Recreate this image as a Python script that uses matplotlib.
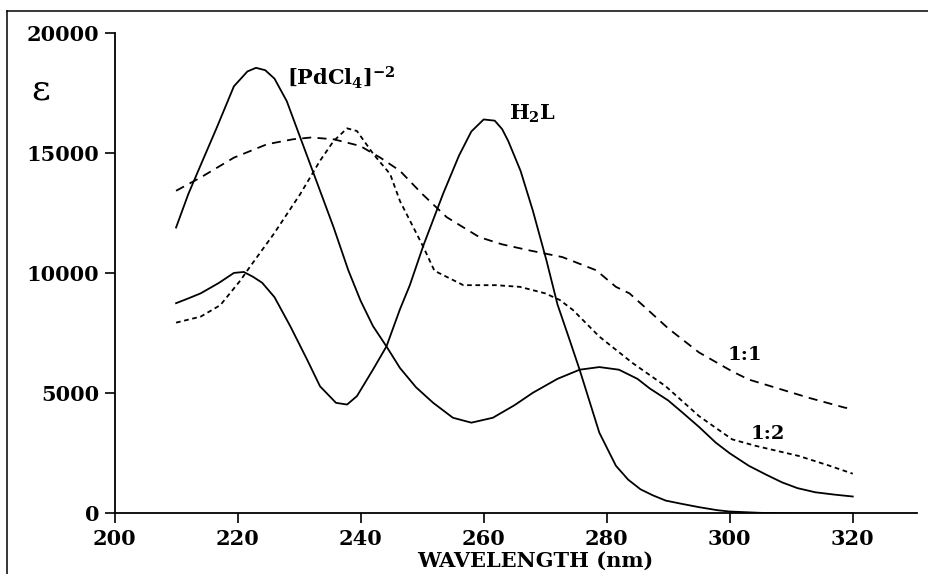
import matplotlib
matplotlib.use('Agg')
import matplotlib.pyplot as plt
from matplotlib.lines import Line2D

plt.rcParams['font.family'] = 'DejaVu Serif'
plt.rcParams['font.weight'] = 'bold'
plt.rcParams['mathtext.fontset'] = 'dejavuserif'
plt.rcParams['mathtext.default'] = 'bf'

# [PdCl4]-2 (solid)
pd_x = [210, 212, 214, 216.6, 219.4, 221.6, 223, 224.5, 226, 228, 230.2, 232.4, 235.6, 238, 240,
        242, 244.2, 246.4, 249, 251.8, 255, 258, 261.5, 265, 268, 272, 275.6, 278.8, 282, 285,
        287, 290, 292.3, 295, 297.7, 300, 303.1, 306, 308.5, 311, 313.9, 317, 320]
pd_y = [11900, 13300, 14500, 16050, 17780, 18400, 18550, 18450, 18100, 17160, 15640, 14125, 11915, 10120, 8850,
        7800, 6950, 6050, 5250, 4600, 3980, 3775, 3980, 4500, 5020, 5600, 5980, 6090, 5980, 5600,
        5200, 4700, 4200, 3600, 2950, 2500, 1980, 1600, 1290, 1050, 877, 780, 700]

# H2L (solid)
h2l_x = [210, 212, 214, 217, 219.4, 221, 222.5, 224, 226, 228.6, 231.3, 233.4, 236, 237.8, 239.4,
         242, 244.2, 246.4, 248, 250.2, 253.4, 256, 258, 260, 261.8, 263, 264, 266, 268, 270.2,
         272, 274, 275.6, 278.8, 281.5, 283.5, 285.5, 287.5, 289.6, 292.3, 295, 298, 300, 305, 310, 320]
h2l_y = [8750, 8950, 9160, 9600, 10010, 10050, 9850, 9600, 9000, 7775, 6400, 5290, 4600, 4530, 4880,
         5980, 6950, 8500, 9500, 11150, 13300, 14900, 15900, 16400, 16350, 16000, 15500, 14260, 12600, 10540,
         8700, 7200, 5980, 3360, 1980, 1400, 1000, 750, 530, 390, 257, 130, 75, 20, 0, 0]

# 1:1 (long dashes)
r11_x = [210, 214, 219.4, 224.8, 229, 232, 235.6, 239.9, 243.2, 246.4, 250, 254, 259.3, 263,
         267.4, 272.8, 278.3, 281.5, 283.7, 286.4, 290, 295, 300.4, 303.1, 308.5, 313, 318.7, 320]
r11_y = [13430, 13985, 14810, 15370, 15575, 15650, 15575, 15300, 14810, 14260, 13300, 12330, 11500, 11200,
         10950, 10670, 10120, 9430, 9160, 8540, 7700, 6700, 5910, 5570, 5150, 4800, 4400, 4350]

# 1:2 (short dashes)
r12_x = [210, 214, 217.2, 220.5, 221.8, 225.9, 230.2, 233.4, 235.6, 237.8, 239.4, 242.1, 244.8, 246.4,
         250.2, 252, 254, 256.7, 262, 265.9, 270, 272.4, 274.5, 278.8, 284.2, 289.6, 295, 300.4,
         304.2, 311.2, 316, 320]
r12_y = [7940, 8190, 8670, 9710, 10190, 11640, 13300, 14680, 15500, 16030, 15920, 14950, 14125, 13000,
         11090, 10100, 9845, 9500, 9500, 9430, 9160, 8880, 8470, 7360, 6260, 5290, 4050, 3080,
         2810, 2390, 2000, 1650]

xticks = [200, 220, 240, 260, 280, 300, 320]
yticks = [0, 5000, 10000, 15000, 20000]

fig = plt.figure(figsize=(9.29, 5.74), dpi=100)
ax = fig.add_axes([0.1233, 0.1057, 0.8635, 0.8368])

ax.plot(pd_x, pd_y, color='black', lw=1.3)
ax.plot(h2l_x, h2l_y, color='black', lw=1.3)
ax.plot(r11_x, r11_y, color='black', lw=1.3, linestyle=(0, (5, 3.5)))
ax.plot(r12_x, r12_y, color='black', lw=1.3, linestyle=(0, (2.6, 2)))

ax.set_xlim(200, 330.4)
ax.set_ylim(0, 20000)
ax.set_xticks(xticks)
ax.set_yticks(yticks)
ax.tick_params(direction='out', length=7, width=1.2, labelsize=15, pad=4)
for s in ['top', 'right']:
    ax.spines[s].set_visible(False)
for s in ['left', 'bottom']:
    ax.spines[s].set_linewidth(1.3)

ax.text(228, 18150, r'$[PdCl_4]^{-2}$', fontsize=15, ha='left', va='center')
ax.text(264.2, 16620, r'$H_2L$', fontsize=15, ha='left', va='center')
ax.text(299.6, 6580, '1:1', fontsize=14, ha='left', va='center')
ax.text(303.4, 3290, '1:2', fontsize=14, ha='left', va='center')

ax.text(268.4, -2230, 'WAVELENGTH (nm)', fontsize=15, ha='center', va='baseline')
fig.text(41 / 929, 1 - 90 / 574, '\u03b5', fontsize=26, fontweight='normal', ha='center', va='center')

# outer frame (left and top edges)
fig.add_artist(Line2D([7 / 929, 7 / 929], [0, 1 - 11 / 574], color='black', lw=1.1))
fig.add_artist(Line2D([7 / 929, 1], [1 - 11 / 574, 1 - 11 / 574], color='black', lw=1.1))

fig.savefig('out.png', dpi=100)
plt.close()
